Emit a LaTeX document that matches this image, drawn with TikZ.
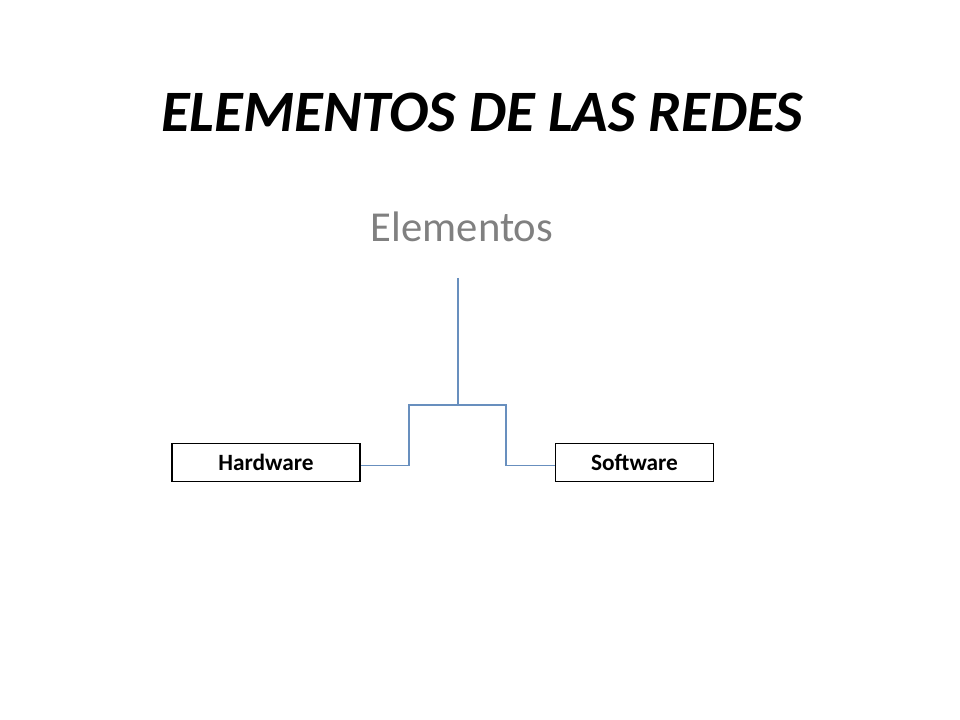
\documentclass[tikz,border=0pt]{standalone}
\usepackage{fontspec}
\setmainfont{Carlito}
\usepackage{tikz}
\definecolor{linkblue}{RGB}{104,143,190}
\definecolor{subgray}{RGB}{128,128,128}
\tikzset{
  itembox/.style={draw=black, line width=0.8pt, minimum height=29pt, inner sep=0pt,
    font=\fontsize{17.5}{20}\selectfont\bfseries},
  link/.style={draw=linkblue, line width=0.8pt}
}

\begin{document}
\begin{tikzpicture}[x=0.75pt,y=-0.75pt]
\useasboundingbox (0,0) rectangle (960,720);
\node (title) at (482,112) {\fontsize{44}{50}\selectfont\bfseries\itshape ELEMENTOS DE LAS REDES};
\node[text=subgray] (elem) at (462,227) {\fontsize{32}{38}\selectfont Elementos};
\node[itembox, minimum width=141pt] (hw) at (266,462.5) {Hardware};
\node[itembox, minimum width=119pt] (sw) at (634.5,462.5) {Software};
\coordinate (top) at (458,278);
\coordinate (split) at (458,405);
\draw[link] (top) -- (split);
\draw[link] (split) -- ++(-49,0) |- ([yshift=-2pt]hw.east);
\draw[link] (split) -- ++(48,0) |- ([yshift=-2pt]sw.west);
\end{tikzpicture}
\end{document}
